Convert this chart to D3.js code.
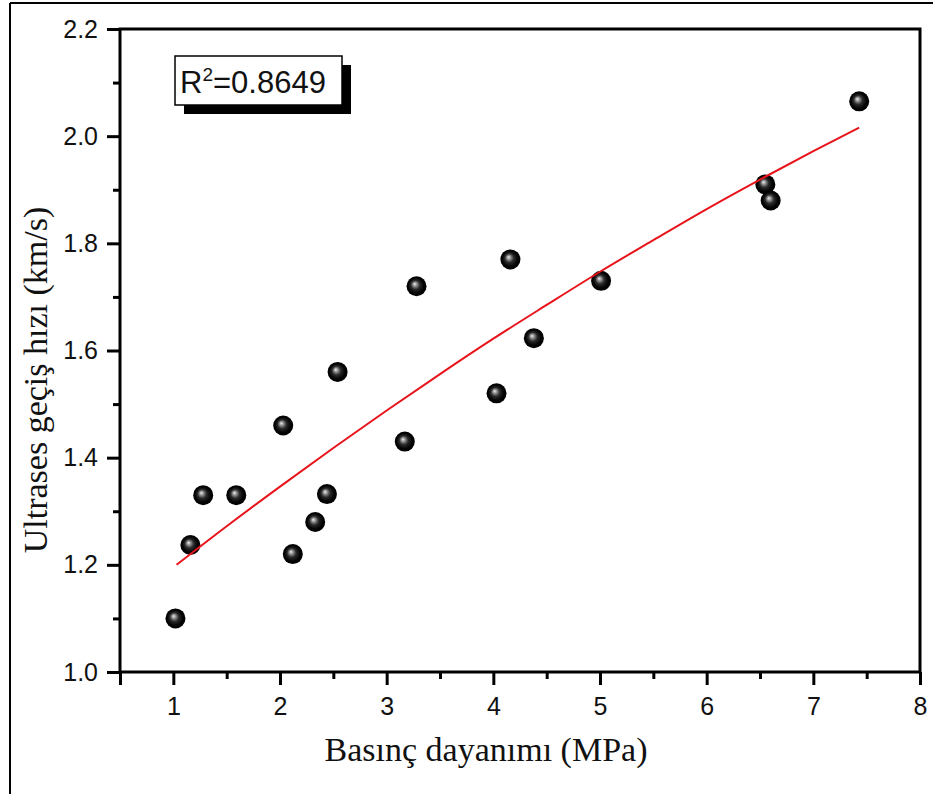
<!DOCTYPE html>
<html>
<head>
<meta charset="utf-8">
<script src="https://cdn.jsdelivr.net/npm/d3@7"></script>
<style>
  html, body { margin: 0; padding: 0; background: #fff; }
  svg { display: block; }
</style>
</head>
<body>
<svg id="chart" width="933" height="794"></svg>
<script>
// ---- data ----
const strengthMPa = [1.02, 1.16, 1.28, 1.59, 2.03, 2.12, 2.33, 2.44, 2.54, 3.17, 3.28, 4.03, 4.16, 4.38, 5.01, 6.55, 6.60, 7.43];
const velocityKms = [1.10, 1.237, 1.33, 1.33, 1.46, 1.22, 1.28, 1.332, 1.56, 1.43, 1.72, 1.52, 1.77, 1.623, 1.73, 1.91, 1.88, 2.065];
const fitX = [1.03, 1.5, 2, 2.5, 3, 3.5, 4, 4.5, 5, 5.5, 6, 6.5, 7, 7.43];
const fitY = [1.200, 1.272, 1.346, 1.418, 1.488, 1.556, 1.622, 1.685, 1.747, 1.806, 1.864, 1.919, 1.972, 2.016];
const xMajorTicks = [0.5, 1, 2, 3, 4, 5, 6, 7, 8];
const xMinorTicks = [1.5, 2.5, 3.5, 4.5, 5.5, 6.5, 7.5];
const yMajorTicks = [1.0, 1.2, 1.4, 1.6, 1.8, 2.0, 2.2];
const yMinorTicks = [1.1, 1.3, 1.5, 1.7, 1.9, 2.1];
const xTitle = "Basınç dayanımı (MPa)";
const yTitle = "Ultrases geçiş hızı (km/s)";
const r2Label = "0.8649";

// ---- layout ----
const svg = d3.select("#chart");
const pLeft = 120, pRight = 920, pTop = 29, pBottom = 672;
const x = d3.scaleLinear().domain([0.5, 8]).range([pLeft, pRight]);
const y = d3.scaleLinear().domain([1.0, 2.2]).range([pBottom, pTop]);

// outer frame (left + top edges visible)
svg.append("line").attr("x1", 10).attr("x2", 10).attr("y1", 3).attr("y2", 794)
  .attr("stroke", "#000").attr("stroke-width", 2);
svg.append("line").attr("x1", 10).attr("x2", 933).attr("y1", 3).attr("y2", 3)
  .attr("stroke", "#000").attr("stroke-width", 2);

// gradient for sphere markers
const defs = svg.append("defs");
const grad = defs.append("radialGradient").attr("id", "ball")
  .attr("cx", "50%").attr("cy", "50%").attr("r", "50%")
  .attr("fx", "40%").attr("fy", "38%");
grad.append("stop").attr("offset", "0%").attr("stop-color", "#f0f0f0");
grad.append("stop").attr("offset", "18%").attr("stop-color", "#9a9a9a");
grad.append("stop").attr("offset", "45%").attr("stop-color", "#2a2a2a");
grad.append("stop").attr("offset", "75%").attr("stop-color", "#050505");
grad.append("stop").attr("offset", "100%").attr("stop-color", "#000");

const tickFont = "'Liberation Sans', Arial, sans-serif";
const titleFont = "'Liberation Serif', 'Times New Roman', serif";

// x axis
const xAxis = svg.append("g").attr("transform", `translate(0,${pBottom})`)
  .call(d3.axisBottom(x).tickValues(xMajorTicks)
    .tickFormat(d => d === 0.5 ? "" : d3.format("d")(d))
    .tickSizeInner(13).tickSizeOuter(0).tickPadding(12));
const xMinor = svg.append("g").attr("transform", `translate(0,${pBottom})`)
  .call(d3.axisBottom(x).tickValues(xMinorTicks).tickFormat("").tickSizeInner(7).tickSizeOuter(0));

// y axis
const yAxis = svg.append("g").attr("transform", `translate(${pLeft},0)`)
  .call(d3.axisLeft(y).tickValues(yMajorTicks).tickFormat(d3.format(".1f"))
    .tickSizeInner(13).tickSizeOuter(0).tickPadding(9));
const yMinor = svg.append("g").attr("transform", `translate(${pLeft},0)`)
  .call(d3.axisLeft(y).tickValues(yMinorTicks).tickFormat("").tickSizeInner(7).tickSizeOuter(0));

[xAxis, xMinor, yAxis, yMinor].forEach(g => {
  g.select(".domain").remove();
  g.selectAll(".tick line").attr("stroke", "#000").attr("stroke-width", 3);
  g.selectAll("text").attr("font-family", tickFont).attr("font-size", 25).attr("fill", "#111");
});

// plot frame
svg.append("rect").attr("x", pLeft).attr("y", pTop).attr("width", pRight - pLeft).attr("height", pBottom - pTop)
  .attr("fill", "none").attr("stroke", "#000").attr("stroke-width", 3);

// points
svg.append("g").selectAll("circle").data(strengthMPa.map((v, i) => [v, velocityKms[i]]))
  .join("circle")
  .attr("cx", d => x(d[0])).attr("cy", d => y(d[1])).attr("r", 10)
  .attr("fill", "url(#ball)");

// fit curve
const fitData = fitX.map((v, i) => [v, fitY[i]]);
svg.append("path").datum(fitData)
  .attr("d", d3.line().x(d => x(d[0])).y(d => y(d[1])).curve(d3.curveMonotoneX))
  .attr("fill", "none").attr("stroke", "#e8141b").attr("stroke-width", 2);

// R² box with shadow
const bx = 175, by = 56, bw = 167, bh = 49;
svg.append("rect").attr("x", bx + 9).attr("y", by + 9).attr("width", bw).attr("height", bh).attr("fill", "#000");
svg.append("rect").attr("x", bx).attr("y", by).attr("width", bw).attr("height", bh)
  .attr("fill", "#fff").attr("stroke", "#000").attr("stroke-width", 1.5);
const rt = svg.append("text").attr("x", bx + 5).attr("y", by + 37)
  .attr("font-family", tickFont).attr("font-size", 31).attr("fill", "#111");
rt.append("tspan").text("R");
rt.append("tspan").attr("font-size", 19).attr("dy", -12).text("2");
rt.append("tspan").attr("dy", 12).text("=" + r2Label);

// axis titles
svg.append("text").attr("x", 486).attr("y", 761).attr("text-anchor", "middle")
  .attr("font-family", titleFont).attr("font-size", 34).attr("fill", "#111").text(xTitle);
svg.append("text").attr("transform", "translate(47,380) rotate(-90)").attr("text-anchor", "middle")
  .attr("font-family", titleFont).attr("font-size", 34).attr("fill", "#111").text(yTitle);
</script>
</body>
</html>
